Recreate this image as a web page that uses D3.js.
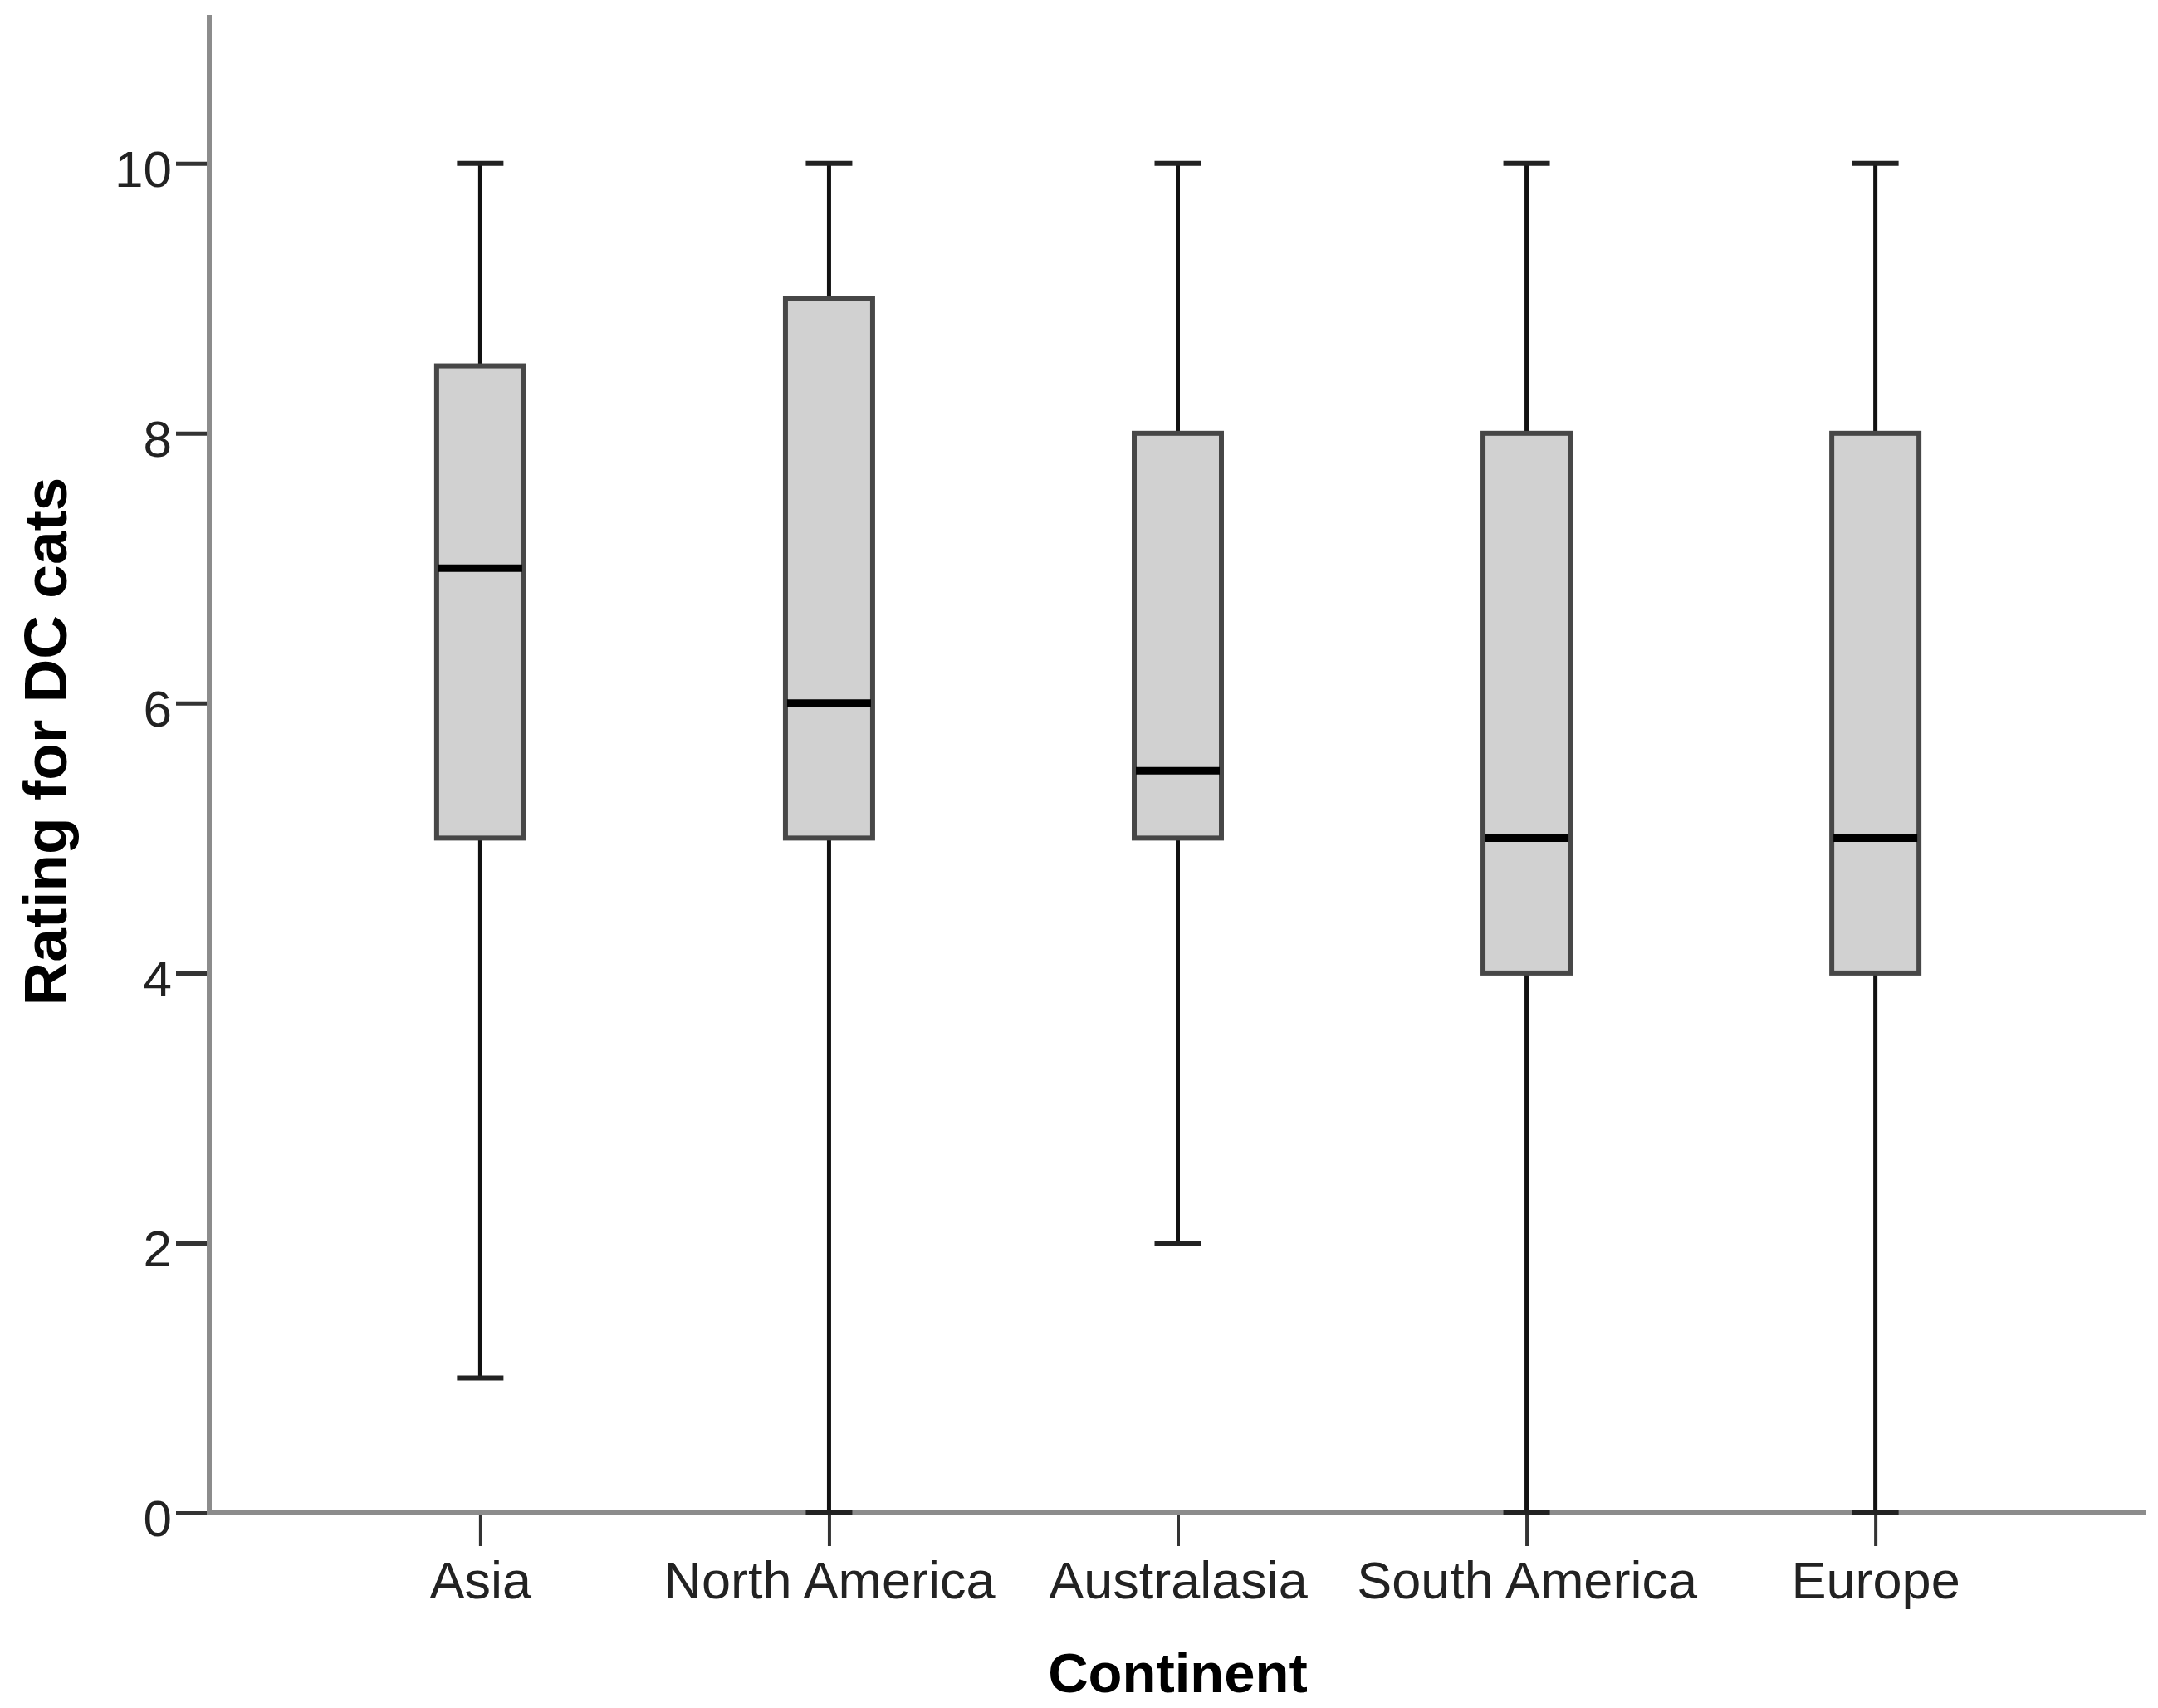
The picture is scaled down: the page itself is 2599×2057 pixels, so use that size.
<!DOCTYPE html>
<html>
<head>
<meta charset="utf-8">
<script src="https://cdn.jsdelivr.net/npm/d3@7"></script>
<style>
  html, body { margin: 0; padding: 0; background: #fff; }
  svg { display: block; }
</style>
</head>
<body>
<div id="chart"></div>
<script>
// ---- Data ----
const continents = ["Asia", "North America", "Australasia", "South America", "Europe"];
const whiskerLow  = [1, 0, 2, 0, 0];
const quartile1   = [5, 5, 5, 4, 4];
const medians     = [7, 6, 5.5, 5, 5];
const quartile3   = [8.5, 9, 8, 8, 8];
const whiskerHigh = [10, 10, 10, 10, 10];
const yTicks      = [0, 2, 4, 6, 8, 10];
const yTitle = "Rating for DC cats";
const xTitle = "Continent";

const boxes = continents.map((c, i) => ({
  name: c, lo: whiskerLow[i], q1: quartile1[i], med: medians[i], q3: quartile3[i], hi: whiskerHigh[i]
}));

// ---- Layout ----
const W = 2599, H = 2057;
const x0 = 252, x1 = 2585, yTop = 18, yBase = 1822;
const font = "'Liberation Sans', Arial, Helvetica, sans-serif";

const svg = d3.select("#chart").append("svg")
  .attr("width", W).attr("height", H)
  .attr("viewBox", `0 0 ${W} ${H}`);

const x = d3.scalePoint().domain(continents).range([x0, x1]).padding(0.777);
const y = d3.scaleLinear().domain([0, 11.1]).range([yBase, yTop]);

// ---- Axes ----
const yAxis = svg.append("g")
  .attr("transform", `translate(${x0},0)`)
  .call(d3.axisLeft(y).tickValues(yTicks).tickFormat(d3.format("d")).tickSize(40).tickPadding(5));
yAxis.select(".domain").remove();
yAxis.selectAll(".tick line").attr("stroke", "#333").attr("stroke-width", 5);
yAxis.selectAll(".tick text")
  .attr("font-family", font).attr("font-size", 62).attr("fill", "#222").attr("dy", "0.45em");

const xAxis = svg.append("g")
  .attr("transform", `translate(0,${yBase})`)
  .call(d3.axisBottom(x).tickSize(40).tickPadding(18));
xAxis.select(".domain").remove();
xAxis.selectAll(".tick line").attr("stroke", "#333").attr("stroke-width", 4);
xAxis.selectAll(".tick text")
  .attr("font-family", font).attr("font-size", 63).attr("fill", "#222");

// axis lines
svg.append("line").attr("x1", x0).attr("x2", x0).attr("y1", yTop).attr("y2", yBase + 3)
  .attr("stroke", "#8c8c8c").attr("stroke-width", 6);
svg.append("line").attr("x1", x0 - 3).attr("x2", x1).attr("y1", yBase).attr("y2", yBase)
  .attr("stroke", "#8c8c8c").attr("stroke-width", 6);

// ---- Boxes ----
const boxW = 105, capW = 56;
const g = svg.append("g").selectAll("g").data(boxes).join("g")
  .attr("transform", d => `translate(${x(d.name)},0)`);

// whiskers
g.append("line").attr("x1", 0).attr("x2", 0)
  .attr("y1", d => y(d.hi)).attr("y2", d => y(d.q3))
  .attr("stroke", "#111").attr("stroke-width", 5);
g.append("line").attr("x1", 0).attr("x2", 0)
  .attr("y1", d => y(d.q1)).attr("y2", d => y(d.lo))
  .attr("stroke", "#111").attr("stroke-width", 5);
// caps
g.append("line").attr("x1", -capW / 2).attr("x2", capW / 2)
  .attr("y1", d => y(d.hi)).attr("y2", d => y(d.hi))
  .attr("stroke", "#222").attr("stroke-width", 6);
g.append("line").attr("x1", -capW / 2).attr("x2", capW / 2)
  .attr("y1", d => y(d.lo)).attr("y2", d => y(d.lo))
  .attr("stroke", "#222").attr("stroke-width", 6);
// box
g.append("rect")
  .attr("x", -boxW / 2).attr("width", boxW)
  .attr("y", d => y(d.q3)).attr("height", d => y(d.q1) - y(d.q3))
  .attr("fill", "#d1d1d1").attr("stroke", "#474747").attr("stroke-width", 6);
// median
g.append("line").attr("x1", -boxW / 2 + 2).attr("x2", boxW / 2 - 2)
  .attr("y1", d => y(d.med)).attr("y2", d => y(d.med))
  .attr("stroke", "#000").attr("stroke-width", 9);

// ---- Titles ----
svg.append("text")
  .attr("transform", `translate(80,${893}) rotate(-90)`)
  .attr("text-anchor", "middle")
  .attr("font-family", font).attr("font-weight", "bold").attr("font-size", 73)
  .attr("fill", "#000").text(yTitle);

svg.append("text")
  .attr("x", (x0 + x1) / 2).attr("y", 2038)
  .attr("text-anchor", "middle")
  .attr("font-family", font).attr("font-weight", "bold").attr("font-size", 67)
  .attr("fill", "#000").text(xTitle);
</script>
</body>
</html>
